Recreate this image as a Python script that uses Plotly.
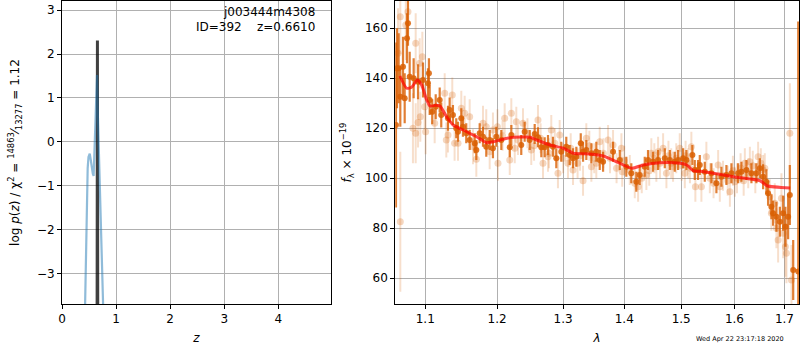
import plotly.graph_objects as go

# ---- left panel: redshift probability ----
z_grid = [0.40, 0.42, 0.44, 0.46, 0.475, 0.49, 0.50, 0.513, 0.53, 0.55, 0.57, 0.585,
          0.60, 0.62, 0.64, 0.648, 0.66, 0.68, 0.70, 0.72, 0.74, 0.76, 0.78]
logp_grid = [-5.5, -4.1, -2.7, -1.25, -0.6, -0.35, -0.29, -0.27, -0.4, -0.6, -0.73, -0.78,
             -0.2, 0.57, 1.33, 1.52, 0.75, -0.15, -1.05, -1.95, -2.85, -3.75, -4.6]
z_fine = [0.645, 0.655, 0.665]
logp_fine = [-8.0, 2.31, -8.0]

# ---- right panel: spectrum ----
wave_dark = [1.0616, 1.0629, 1.0651, 1.0672, 1.0707, 1.0729, 1.0759, 1.0772, 1.0794, 1.0846,
             1.0904, 1.0970, 1.1036, 1.1049, 1.1059, 1.1093, 1.1140, 1.1194, 1.1215, 1.1307,
             1.1330, 1.1375, 1.1421, 1.1445, 1.1491, 1.1514, 1.1560, 1.1608, 1.1679, 1.1702,
             1.1750, 1.1797, 1.1844, 1.1893, 1.1940, 1.1989, 1.2062, 1.2186, 1.2209, 1.2357,
             1.2408, 1.2484, 1.2560, 1.2610, 1.2661, 1.2713, 1.2764, 1.2841, 1.2893, 1.2971,
             1.3050, 1.3104, 1.3157, 1.3210, 1.3281, 1.3318, 1.3371, 1.3453, 1.3534, 1.3590,
             1.3645, 1.3811, 1.3924, 1.4035, 1.4120, 1.4206, 1.4265, 1.4352, 1.4409, 1.4497,
             1.4586, 1.4705, 1.4795, 1.4884, 1.4944, 1.5035, 1.5095, 1.5205, 1.5249, 1.5310,
             1.5342, 1.5435, 1.5559, 1.5654, 1.5749, 1.5845, 1.5942, 1.6072, 1.6136, 1.6234,
             1.6333, 1.6432, 1.6500, 1.6566, 1.6632, 1.6666, 1.6733, 1.6768, 1.6835, 1.6905,
             1.6973, 1.7020, 1.7076, 1.7111, 1.7181, 1.7286]
flux_dark = [121.3, 144.0, 144.0, 132.6, 144.6, 132.0, 156.0, 162.0, 140.6, 140.0,
             138.6, 139.3, 138.0, 142.0, 131.3, 126.6, 128.6, 131.3, 125.3, 124.0,
             127.3, 125.3, 120.0, 118.6, 124.0, 120.6, 118.0, 115.3, 114.0, 111.3,
             118.0, 116.6, 112.6, 115.3, 112.0, 116.6, 115.3, 112.4, 117.3, 113.3,
             118.6, 115.3, 117.7, 116.4, 112.4, 112.4, 113.3, 112.6, 108.0, 110.6,
             112.6, 109.3, 108.0, 108.6, 114.0, 110.6, 111.3, 110.0, 110.6, 107.3,
             106.6, 110.6, 107.3, 104.6, 102.0, 98.6, 101.3, 104.6, 107.3, 106.6,
             107.3, 108.0, 107.3, 106.6, 107.3, 108.0, 107.3, 109.3, 103.3, 103.3,
             105.3, 102.6, 102.0, 98.0, 100.6, 101.3, 102.0, 102.0, 102.6, 103.3,
             102.0, 102.0, 104.0, 100.6, 98.6, 94.0, 88.6, 86.0, 84.6, 82.6,
             86.0, 80.6, 84.6, 93.3, 63.3, 62.7]
err_dark = [33, 16, 14, 12, 12, 10, 10, 9, 10, 8,
            7, 7, 6, 6, 6, 5, 5, 5, 5, 5,
            5, 4, 4, 4, 4, 4, 4, 4, 4, 4,
            4, 4, 4, 4, 4, 4, 4, 4, 4, 4,
            4, 4, 4, 4, 4, 4, 4, 4, 4, 4,
            4, 4, 4, 4, 4, 4, 4, 4, 4, 4,
            4, 4, 4, 4, 4, 4, 4, 4, 4, 4,
            4, 4, 4, 4, 4, 4, 4, 4, 4, 4,
            4, 4, 4, 4, 4, 4, 4, 4, 4, 4,
            4, 4, 4, 5, 5, 5, 5, 5, 6, 6,
            7, 8, 9, 12, 12, 100]

wave_light = [1.0643, 1.0672, 1.0672, 1.0743, 1.0772, 1.0837, 1.0873, 1.0873, 1.0904, 1.0926,
              1.0934, 1.0961, 1.0992, 1.1005, 1.1126, 1.1262, 1.1284, 1.1307, 1.1366, 1.1398,
              1.1445, 1.1491, 1.1538, 1.1608, 1.1655, 1.1702, 1.1797, 1.1844, 1.1893, 1.1940,
              1.2005, 1.2013, 1.2080, 1.2111, 1.2186, 1.2209, 1.2260, 1.2283, 1.2308, 1.2383,
              1.2450, 1.2508, 1.2550, 1.2610, 1.2650, 1.2687, 1.2764, 1.2780, 1.2815, 1.2870,
              1.2919, 1.2946, 1.3000, 1.3077, 1.3120, 1.3157, 1.3230, 1.3270, 1.3318, 1.3371,
              1.3420, 1.3453, 1.3500, 1.3534, 1.3590, 1.3650, 1.3728, 1.3760, 1.3811, 1.3870,
              1.3952, 1.3965, 1.4000, 1.4094, 1.4180, 1.4237, 1.4300, 1.4380, 1.4430, 1.4467,
              1.4520, 1.4555, 1.4586, 1.4620, 1.4675, 1.4734, 1.4770, 1.4820, 1.4853, 1.4910,
              1.4974, 1.5010, 1.5066, 1.5080, 1.5127, 1.5160, 1.5186, 1.5260, 1.5372, 1.5465,
              1.5530, 1.5600, 1.5687, 1.5719, 1.5780, 1.5870, 1.5912, 1.5970, 1.6008, 1.6050,
              1.6120, 1.6180, 1.6203, 1.6270, 1.6302, 1.6360, 1.6410, 1.6466, 1.6520, 1.6566,
              1.6600, 1.6700, 1.6733, 1.6802, 1.6835, 1.6870, 1.6938, 1.6973, 1.7020, 1.7041,
              1.7111, 1.7145]
flux_light = [150.0, 164.6, 82.6, 161.3, 166.6, 120.0, 154.0, 118.0, 122.3, 146.0,
              124.6, 148.6, 128.6, 118.6, 122.0, 134.0, 115.3, 117.3, 133.3, 114.0,
              114.0, 128.0, 126.0, 124.6, 112.6, 107.6, 122.0, 120.6, 110.6, 119.3,
              120.6, 106.0, 117.0, 124.0, 107.3, 126.0, 112.0, 122.6, 115.3, 122.0,
              118.0, 111.3, 113.0, 123.3, 116.0, 106.0, 108.6, 110.0, 119.3, 114.0,
              102.0, 117.3, 108.0, 106.0, 112.0, 103.3, 106.0, 109.0, 99.0, 116.0,
              113.0, 104.6, 108.0, 106.0, 114.6, 110.0, 115.3, 108.0, 113.3, 104.0,
              112.0, 102.6, 107.0, 103.3, 98.0, 96.6, 100.0, 101.3, 103.0, 110.0,
              108.0, 104.6, 110.6, 106.0, 112.0, 102.0, 109.0, 106.0, 104.6, 108.0,
              112.0, 105.0, 102.0, 109.0, 106.0, 104.0, 112.6, 96.6, 96.6, 108.6,
              100.0, 98.0, 105.3, 96.6, 101.0, 99.0, 94.6, 103.0, 98.6, 100.0,
              104.0, 99.0, 106.0, 102.0, 106.6, 105.0, 100.0, 108.6, 106.0, 103.3,
              104.0, 92.6, 86.0, 90.0, 80.0, 75.3, 92.0, 78.0, 72.6, 70.0,
              118.0, 59.3]
err_light = [18, 15, 28, 14, 12, 14, 12, 12, 10, 10,
             10, 10, 9, 9, 8, 8, 7, 7, 7, 7,
             7, 7, 7, 7, 7, 7, 7, 7, 7, 7,
             7, 7, 6, 6, 6, 6, 6, 6, 6, 6,
             6, 6, 6, 6, 6, 6, 6, 6, 6, 6,
             6, 6, 6, 6, 6, 6, 6, 6, 6, 6,
             6, 6, 6, 6, 6, 6, 6, 6, 6, 6,
             6, 6, 6, 6, 6, 6, 6, 6, 6, 6,
             6, 6, 6, 6, 6, 6, 6, 6, 6, 6,
             6, 6, 6, 6, 6, 6, 6, 6, 6, 6,
             6, 6, 6, 6, 6, 6, 6, 6, 6, 6,
             6, 6, 6, 6, 6, 6, 6, 6, 6, 6,
             6, 7, 7, 8, 8, 9, 10, 10, 12, 12,
             20, 14]

wave_model = [1.0667, 1.0755, 1.0820, 1.0894, 1.0952, 1.1019, 1.1063, 1.1143, 1.1198, 1.1288,
              1.1379, 1.1517, 1.1706, 1.1849, 1.1944, 1.2188, 1.2487, 1.2589, 1.2796, 1.3004,
              1.3163, 1.3429, 1.3648, 1.3872, 1.4126, 1.4326, 1.4619, 1.4979, 1.5102, 1.5223,
              1.5348, 1.5598, 1.5981, 1.6507, 1.6641, 1.7119]
flux_model = [140.9, 136.0, 136.4, 139.3, 137.3, 131.3, 128.9, 129.2, 128.9, 124.6,
              121.3, 119.3, 116.6, 114.2, 114.6, 116.2, 116.4, 115.3, 113.3, 112.0,
              110.0, 109.7, 108.9, 106.6, 104.0, 105.3, 106.2, 106.0, 105.3, 103.0,
              102.8, 102.0, 100.6, 99.0, 97.0, 96.1]

wave_ticks = [1.1, 1.2, 1.3, 1.4, 1.5, 1.6, 1.7]

ORANGE = "217,95,2"

fig = go.Figure()

fig.add_trace(go.Scatter(x=z_fine, y=logp_fine, mode="lines",
                         line=dict(color="rgba(0,0,0,0.75)", width=3),
                         xaxis="x", yaxis="y", showlegend=False))
fig.add_trace(go.Scatter(x=z_grid, y=logp_grid, mode="lines",
                         line=dict(color="rgba(31,119,180,0.5)", width=2.2),
                         xaxis="x", yaxis="y", showlegend=False))

fig.add_trace(go.Scatter(x=wave_light, y=flux_light, mode="markers",
                         marker=dict(color=f"rgba({ORANGE},0.25)", size=7, line=dict(width=0)),
                         error_y=dict(type="data", array=err_light, color=f"rgba({ORANGE},0.2)",
                                      thickness=2, width=0),
                         xaxis="x2", yaxis="y2", showlegend=False))
fig.add_trace(go.Scatter(x=wave_dark, y=flux_dark, mode="markers",
                         marker=dict(color=f"rgba({ORANGE},0.85)", size=6, line=dict(width=0)),
                         error_y=dict(type="data", array=err_dark, color=f"rgba({ORANGE},0.8)",
                                      thickness=2.2, width=0),
                         xaxis="x2", yaxis="y2", showlegend=False))
fig.add_trace(go.Scatter(x=wave_model, y=flux_model, mode="lines",
                         line=dict(color="rgba(255,0,0,0.7)", width=3, shape="spline", smoothing=0.6),
                         xaxis="x2", yaxis="y2", showlegend=False))

FONT = dict(family="DejaVu Sans", size=12, color="black")
ax_common = dict(showline=True, mirror=True, linecolor="black", linewidth=1,
                 ticks="outside", ticklen=4, tickcolor="black", tickwidth=1,
                 showgrid=True, gridcolor="#b0b0b0", gridwidth=1, zeroline=False,
                 tickfont=FONT, automargin=False)

fig.update_layout(
    width=800, height=350,
    margin=dict(l=62, r=1, t=1, b=46),
    paper_bgcolor="white", plot_bgcolor="white",
    font=FONT,
    xaxis=dict(domain=[0, 0.365], range=[0, 4.975], tickvals=[0, 1, 2, 3, 4],
               title=dict(text="<i>z</i>", standoff=8, font=FONT), anchor="y", **ax_common),
    yaxis=dict(range=[-3.70, 3.21], tickvals=[-3, -2, -1, 0, 1, 2, 3],
               title=dict(text="log <i>p</i>(<i>z</i>) / χ<sup>2</sup> = <sup>14863</sup>⁄<sub>13277</sub> = 1.12",
                          standoff=14, font=FONT), anchor="x", **ax_common),
    xaxis2=dict(domain=[0.4522, 1], type="log", range=[0.0256, 0.2381],
                tickvals=wave_ticks, ticktext=[f"{v:.1f}" for v in wave_ticks],
                title=dict(text="<i>λ</i>", standoff=8, font=FONT), anchor="y2", **ax_common),
    yaxis2=dict(range=[49.7, 170.9], tickvals=[60, 80, 100, 120, 140, 160],
                title=dict(text="<i>f</i><sub>λ</sub> × 10<sup>−19</sup>", standoff=10, font=FONT),
                anchor="x2", **ax_common),
    annotations=[
        dict(text="j003444m4308", xref="paper", yref="paper", x=0.3457, y=0.963,
             xanchor="right", yanchor="middle", showarrow=False, font=FONT),
        dict(text="ID=392    z=0.6610", xref="paper", yref="paper", x=0.3457, y=0.913,
             xanchor="right", yanchor="middle", showarrow=False, font=FONT),
        dict(text="Wed Apr 22 23:17:18 2020", xref="paper", yref="paper", x=0.983, y=-0.115,
             xanchor="right", yanchor="middle", showarrow=False,
             font=dict(family="DejaVu Sans", size=6.5, color="black")),
    ],
)

fig.write_html("out.html", config={"displayModeBar": False},
               post_script="document.body.style.margin='0';")
